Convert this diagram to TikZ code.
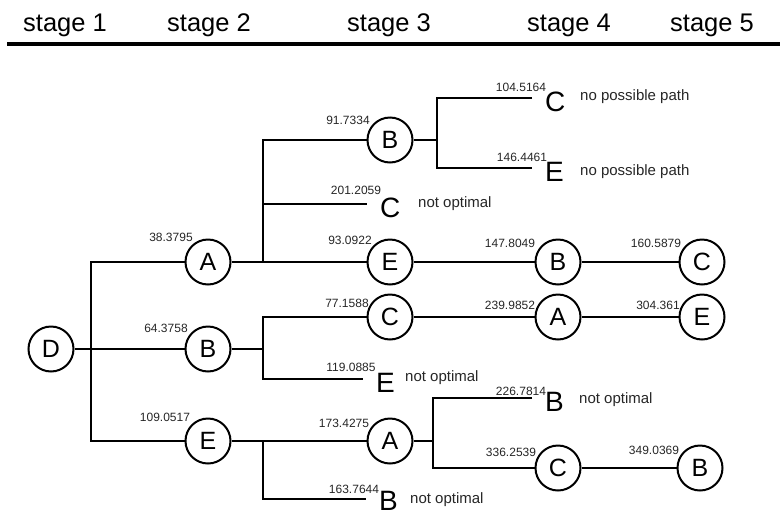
\documentclass[tikz,border=0pt]{standalone}
\usepackage{fontspec}
\setmainfont{Liberation Sans}
\begin{document}
\begin{tikzpicture}[x=1pt,y=-1pt,
 st/.style={circle, draw, line width=2pt, minimum size=45pt, inner sep=0pt, font=\fontsize{25}{25}\selectfont},
 leaf/.style={inner xsep=13pt, inner ysep=0pt, text depth=0pt, anchor=base west, font=\fontsize{28}{28}\selectfont},
 val/.style={font=\fontsize{12}{13}\selectfont, text=black!85, inner sep=0pt},
 note/.style={font=\fontsize{15}{16}\selectfont, text=black!85, inner sep=0pt, anchor=west},
 hdr/.style={font=\fontsize{25.5}{26}\selectfont, anchor=base, inner sep=0pt},
 conn/.style={line width=2.6pt},
]
\useasboundingbox (0,0) rectangle (780,515);
% header
\node[hdr] (s1) at (65,31) {stage 1};
\node[hdr] (s2) at (209,31) {stage 2};
\node[hdr] (s3) at (389,31) {stage 3};
\node[hdr] (s4) at (569,31) {stage 4};
\node[hdr] (s5) at (712,31) {stage 5};
\coordinate (hl) at (7,44);
\coordinate (hr) at (780,44);
\draw[line width=3.5pt] (hl) -- (hr);

% stage nodes
\node[st] (D) at (51,349) {D};
\node[st] (A2) at (208,262) {A};
\node[st] (B2) at (208,349) {B};
\node[st] (E2) at (208,441) {E};
\node[st] (B3) at (390,140) {B};
\node[st] (E3) at (390,262) {E};
\node[st] (C3) at (390,317) {C};
\node[st] (A3) at (390,441) {A};
\node[st] (B4) at (558,262) {B};
\node[st] (A4) at (558,317) {A};
\node[st] (C4) at (558,468) {C};
\node[st] (C5) at (702,262) {C};
\node[st] (E5) at (702,317) {E};
\node[st] (B5) at (700,468) {B};

% leaf letters (baseline 13px below the line)
\node[leaf] (Cl3) at (367,217) {C};
\node[leaf] (Cl4) at (532,111) {C};
\node[leaf] (El4) at (532,181) {E};
\node[leaf] (El3) at (363,392) {E};
\node[leaf] (Bl3) at (366,510) {B};
\node[leaf] (Bl4) at (532,411) {B};
% line ends at the leaves
\coordinate (eCl3) at ([yshift=13pt]Cl3.base west);
\coordinate (eCl4) at ([yshift=13pt]Cl4.base west);
\coordinate (eEl4) at ([yshift=13pt]El4.base west);
\coordinate (eEl3) at ([yshift=13pt]El3.base west);
\coordinate (eBl3) at ([yshift=11pt]Bl3.base west);
\coordinate (eBl4) at ([yshift=13pt]Bl4.base west);

% junctions
\coordinate (jD) at (91,349);
\coordinate (jA) at (263,262);
\coordinate (jB) at (437,140);
\coordinate (jB2) at (263,349);
\coordinate (jE2) at (263,441);
\coordinate (jA3) at (433,441);

% connectors
\draw[conn] (D) -- (B2);
\draw[conn] (A2) -| (jD) |- (E2);
\draw[conn] (A2) -- (E3);
\draw[conn] (B3) -| (jA);
\draw[conn] (jA |- eCl3) -- (eCl3);
\draw[conn] (B3) -- (jB);
\draw[conn] (eCl4) -| (jB) |- (eEl4);
\draw[conn] (E3) -- (B4) -- (C5);
\draw[conn] (B2) -- (jB2);
\draw[conn] (C3) -| (jB2) |- (eEl3);
\draw[conn] (C3) -- (A4) -- (E5);
\draw[conn] (E2) -- (A3);
\draw[conn] (jE2) |- (eBl3);
\draw[conn] (A3) -- (jA3);
\draw[conn] (eBl4) -| (jA3) |- (C4);
\draw[conn] (C4) -- (B5);

% values
\node[val] (v1) at (171,237) {38.3795};
\node[val] (v2) at (166,328) {64.3758};
\node[val] (v3) at (165,417) {109.0517};
\node[val] (v4) at (348,120) {91.7334};
\node[val] (v5) at (356,190) {201.2059};
\node[val] (v6) at (350,240) {93.0922};
\node[val] (v7) at (347,303) {77.1588};
\node[val] (v8) at (351,367) {119.0885};
\node[val] (v9) at (344,423) {173.4275};
\node[val] (v10) at (354,489) {163.7644};
\node[val] (v11) at (521,87) {104.5164};
\node[val] (v12) at (522,157) {146.4461};
\node[val] (v13) at (510,243) {147.8049};
\node[val] (v14) at (656,243) {160.5879};
\node[val] (v15) at (510,305) {239.9852};
\node[val] (v16) at (658,305) {304.361};
\node[val] (v17) at (521,391) {226.7814};
\node[val] (v18) at (511,452) {336.2539};
\node[val] (v19) at (654,450) {349.0369};

% notes
\node[note] (n1) at (580,97) {no possible path};
\node[note] (n2) at (580,172) {no possible path};
\node[note] (n3) at (418,204) {not optimal};
\node[note] (n4) at (405,378) {not optimal};
\node[note] (n5) at (410,500) {not optimal};
\node[note] (n6) at (579,400) {not optimal};
\end{tikzpicture}
\end{document}
